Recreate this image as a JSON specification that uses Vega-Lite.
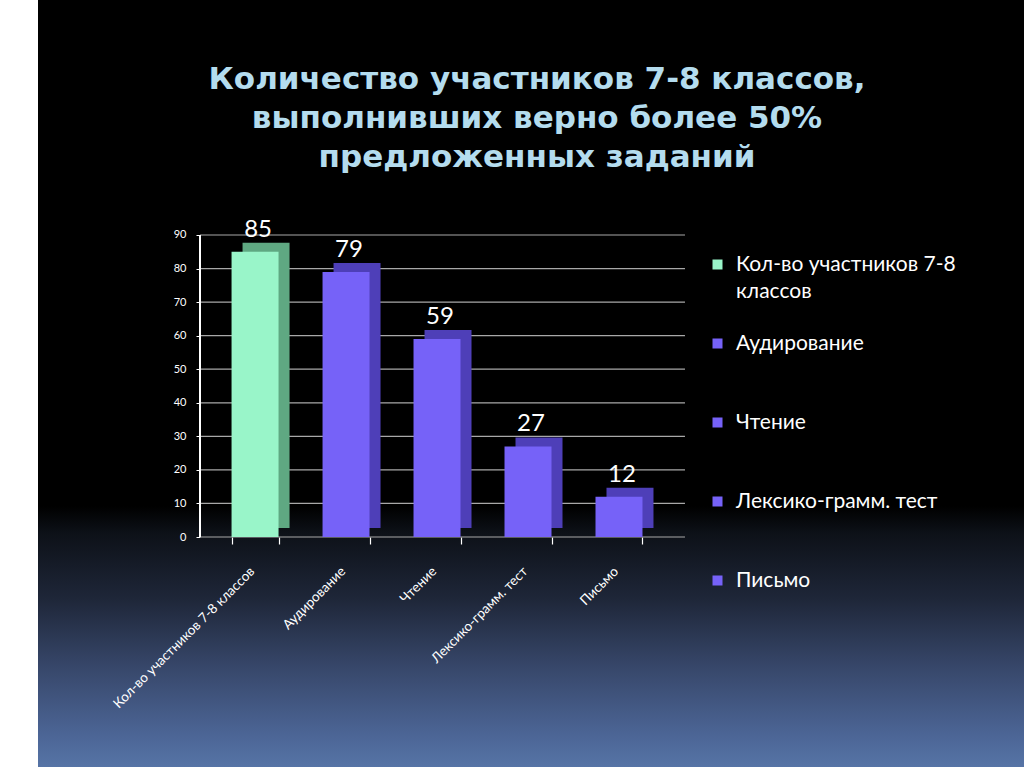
{
  "$schema": "https://vega.github.io/schema/vega-lite/v6.json",
  "autosize": {"type": "none"},
  "padding": {"left": 38, "top": 0, "right": 0, "bottom": 0},
  "width": 986,
  "height": 767,
  "background": "#ffffff",
  "view": {
    "stroke": null,
    "fill": {
      "gradient": "linear", "x1": 0, "y1": 0, "x2": 0, "y2": 1,
      "stops": [
        {"offset": 0, "color": "#000000"},
        {"offset": 0.66, "color": "#000000"},
        {"offset": 0.695, "color": "#0d1118"},
        {"offset": 0.78, "color": "#1e2638"},
        {"offset": 0.87, "color": "#37476a"},
        {"offset": 0.955, "color": "#4b6494"},
        {"offset": 1, "color": "#5674a6"}
      ]
    }
  },
  "title": {
    "text": ["Количество участников 7-8 классов,", "выполнивших верно более 50%", "предложенных заданий"],
    "font": "DejaVu Sans",
    "fontSize": 31,
    "fontWeight": "bold",
    "color": "#b4dcee",
    "lineHeight": 39,
    "anchor": "middle",
    "frame": "group",
    "baseline": "bottom",
    "dx": 6,
    "offset": -205
  },
  "datasets": {
    "bars": [
      {"k": "Кол-во участников 7-8 классов", "v": 85},
      {"k": "Аудирование", "v": 79},
      {"k": "Чтение", "v": 59},
      {"k": "Лексико-грамм. тест", "v": 27},
      {"k": "Письмо", "v": 12}
    ],
    "grid": [
      {"g": 0}, {"g": 10}, {"g": 20}, {"g": 30}, {"g": 40},
      {"g": 50}, {"g": 60}, {"g": 70}, {"g": 80}, {"g": 90}
    ]
  },
  "layer": [
    {
      "data": {"name": "grid"},
      "mark": {"type": "rule", "color": "#a8a8a8", "strokeWidth": 1.2},
      "encoding": {
        "y": {
          "field": "g", "type": "quantitative", "title": null,
          "scale": {"domain": [-68.543, 160.033], "nice": false, "zero": false},
          "axis": {
            "values": [0, 10, 20, 30, 40, 50, 60, 70, 80, 90],
            "labelColor": "#ffffff", "labelFontSize": 11, "labelFont": "Lato",
            "domain": false, "tickColor": "#ffffff", "tickSize": 4, "grid": false,
            "labelPadding": 10, "offset": -162
          }
        },
        "x": {
          "datum": "Кол-во участников 7-8 классов", "type": "nominal", "bandPosition": -0.67, "title": null,
          "scale": {
            "domain": ["Кол-во участников 7-8 классов", "Аудирование", "Чтение", "Лексико-грамм. тест", "Письмо"],
            "range": [162, 647],
            "paddingInner": 0.48352, "paddingOuter": 0.407, "align": 0.426
          },
          "axis": {
            "title": null,
            "labelAngle": -45, "labelColor": "#ffffff", "labelFontSize": 13.5, "labelFont": "Lato",
            "domain": false, "tickColor": "#ffffff", "tickBand": "extent", "tickSize": 7, "tickWidth": 1.2,
            "labelPadding": 20, "labelOffset": -8, "labelLimit": 300, "offset": -230, "grid": false
          }
        },
        "x2": {"datum": "Письмо", "bandPosition": 1.904}
      }
    },
    {
      "data": {"name": "bars"},
      "mark": {"type": "bar", "xOffset": 11, "yOffset": -9, "y2Offset": -9},
      "encoding": {
        "x": {"field": "k", "type": "nominal", "sort": null, "title": null},
        "y": {"field": "v", "type": "quantitative", "title": null},
        "y2": {"datum": 0},
        "color": {
          "condition": {"test": "datum.k == 'Кол-во участников 7-8 классов'", "value": "#5fa882"},
          "value": "#4e3fb8"
        }
      }
    },
    {
      "data": {"name": "bars"},
      "mark": {"type": "bar"},
      "encoding": {
        "x": {"field": "k", "type": "nominal", "sort": null, "title": null},
        "y": {"field": "v", "type": "quantitative", "title": null},
        "y2": {"datum": 0},
        "color": {
          "field": "k", "type": "nominal", "sort": null, "title": null,
          "scale": {
            "domain": ["Кол-во участников 7-8 классов", "Аудирование", "Чтение", "Лексико-грамм. тест", "Письмо"],
            "range": ["#99f5c9", "#7662f8", "#7662f8", "#7662f8", "#7662f8"]
          },
          "legend": {
            "orient": "none", "legendX": 669, "legendY": 254,
            "symbolType": "square", "symbolSize": 100, "symbolStrokeWidth": 0,
            "labelColor": "#ffffff", "labelFontSize": 21, "labelFont": "Lato",
            "labelLimit": 400, "rowPadding": 30, "labelOffset": 8,
            "labelExpr": "datum.label == 'Кол-во участников 7-8 классов' ? ['Кол-во участников  7-8', 'классов'] : [datum.label, '']"
          }
        }
      }
    },
    {
      "data": {"name": "bars"},
      "mark": {"type": "text", "dy": -10, "dx": 3, "baseline": "bottom", "fontSize": 24, "font": "Lato", "color": "#ffffff"},
      "encoding": {
        "x": {"field": "k", "type": "nominal", "sort": null, "title": null},
        "y": {"field": "v", "type": "quantitative", "title": null},
        "text": {"field": "v", "type": "quantitative"}
      }
    },
    {
      "data": {"name": "grid"},
      "mark": {"type": "rule", "color": "#ffffff", "strokeWidth": 1.4, "orient": "vertical"},
      "encoding": {
        "x": {"datum": "Кол-во участников 7-8 классов", "type": "nominal", "bandPosition": -0.67, "title": null},
        "y": {"datum": 90, "type": "quantitative", "title": null},
        "y2": {"datum": 0.01}
      }
    }
  ],
  "config": {
    "style": {"guide-label": {"lineHeight": 27}}
  }
}
